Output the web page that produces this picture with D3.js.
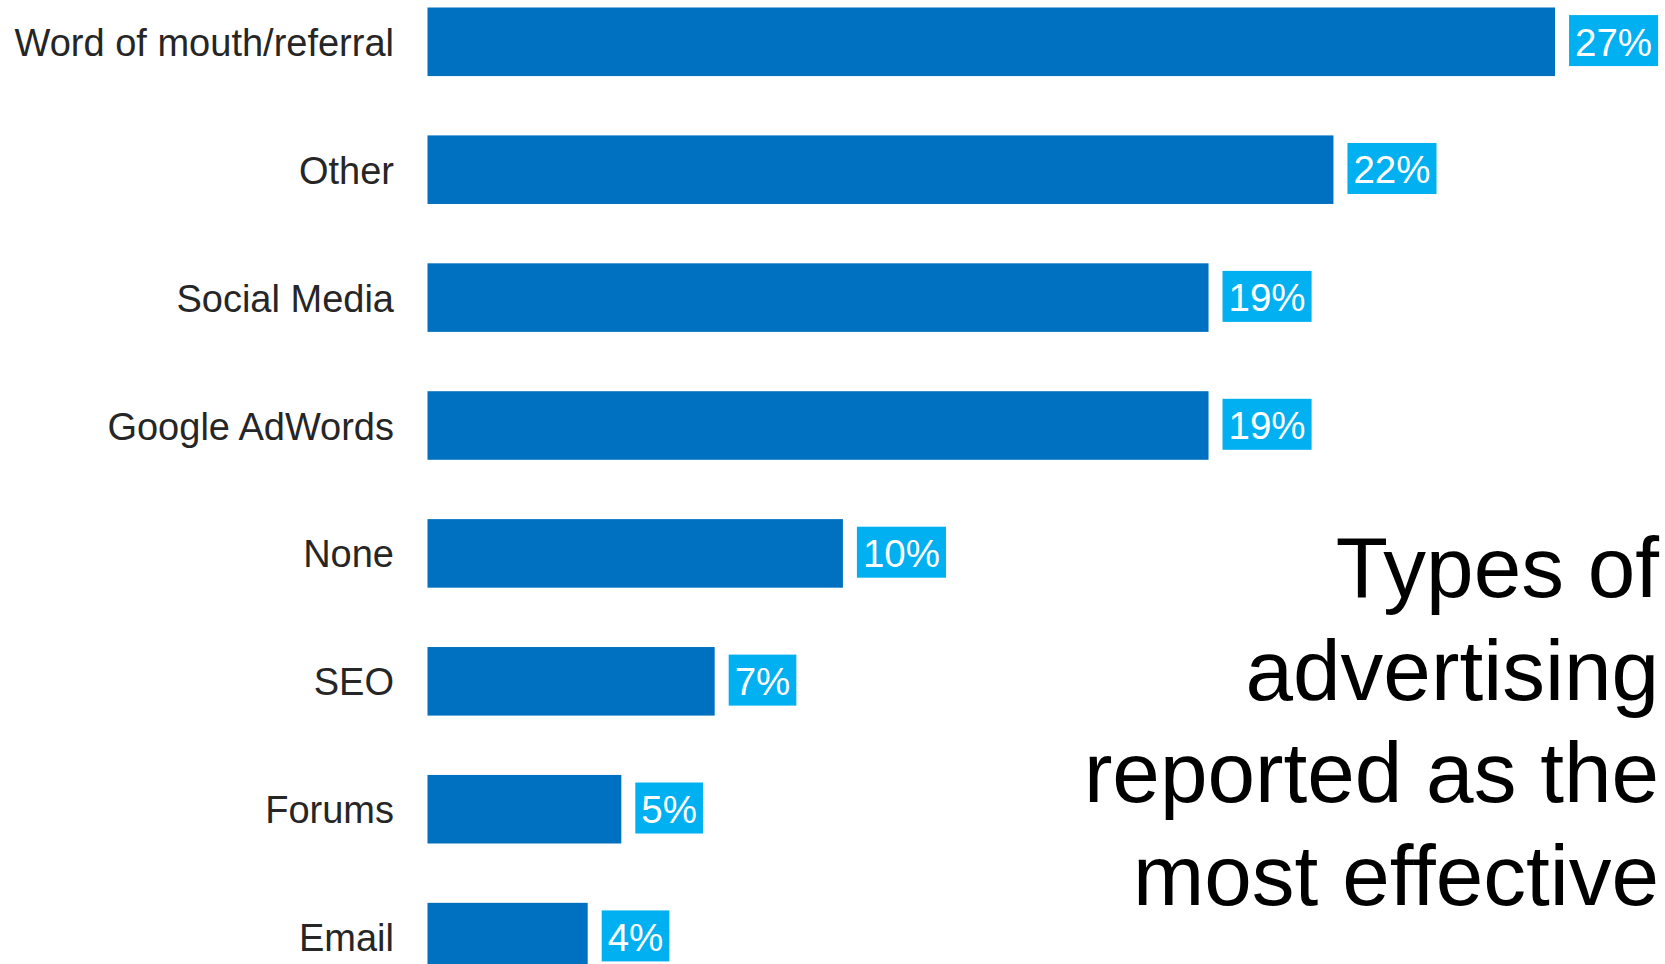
<!DOCTYPE html>
<html>
<head>
<meta charset="utf-8">
<script src="https://cdn.jsdelivr.net/npm/d3@7"></script>
<style>
body { margin:0; background:white; }
.cat { font-family:"Liberation Sans", Arial, sans-serif; font-size:38px; fill:#262626; }
.val { font-family:"Liberation Sans", Arial, sans-serif; font-size:38.5px; fill:white; }
.title { font-family:"Liberation Sans", Arial, sans-serif; font-size:85.5px; fill:black; }
</style>
</head>
<body>
<svg></svg>
<script>
var categories = ["Word of mouth/referral","Other","Social Media","Google AdWords","None","SEO","Forums","Email"]
var values = [27.17,21.83,18.82,18.82,10.01,6.92,4.67,3.86]
var valueLabels = ["27%","22%","19%","19%","10%","7%","5%","4%"]
var titleLines = ["Types of","advertising","reported as the","most effective"]

var drawBars = function(xScale,yScale)
{
    var bars = d3.select("svg")
    .append("g")
    .classed("bars",true)

    bars.selectAll("rect")
    .data(values)
    .enter()
    .append("rect")
    .attr("x",xScale(0))
    .attr("y",function(d,i){return yScale(categories[i])})
    .attr("width",function(d){return xScale(d)-xScale(0)})
    .attr("height",yScale.bandwidth())
    .attr("fill","#0070C0")
}

var drawValueLabels = function(xScale,yScale)
{
    var labels = d3.select("svg")
    .append("g")
    .classed("values",true)

    values.forEach(function(d,i)
    {
        var cy = yScale(categories[i]) + yScale.bandwidth()/2
        var x = xScale(d) + 14
        var g = labels.append("g")
        var box = g.append("rect")
        .attr("fill","#00B0F0")
        var txt = g.append("text")
        .text(valueLabels[i])
        .classed("val",true)
        .attr("x",x+6)
        .attr("y",cy+13.8)
        var w = txt.node().getComputedTextLength()
        box.attr("x",x)
        .attr("y",cy-26.7)
        .attr("width",w+12)
        .attr("height",51)
    })
}

var drawAxes = function(yScale)
{
    var yAxis = d3.axisLeft(yScale)
    .tickSize(0)
    .tickPadding(0)

    var axis = d3.select("svg")
    .append("g")
    .attr("transform","translate(394,0)")
    .call(yAxis)

    axis.select(".domain").remove()
    axis.selectAll("text")
    .attr("class","cat")
    .attr("fill",null)
    .attr("font-size",null)
    .attr("font-family",null)
    .attr("dy","0.37em")
}

var drawTitle = function()
{
    var title = d3.select("svg")
    .append("g")
    .classed("titleBlock",true)

    title.selectAll("text")
    .data(titleLines)
    .enter()
    .append("text")
    .text(function(d){return d})
    .classed("title",true)
    .attr("text-anchor","end")
    .attr("x",1659)
    .attr("y",function(d,i){return 597 + i*102.5})
}

var initGraph = function()
{
    var screen = {width:1665,height:964}

    d3.select("svg")
    .attr("width",screen.width)
    .attr("height",screen.height)

    var xScale = d3.scaleLinear()
        .domain([0,30])
        .range([427.5,427.5+1245])

    var yScale = d3.scaleBand()
        .domain(categories)
        .range([7.5,971.4])
        .paddingInner(0.464)
        .paddingOuter(0)

    drawBars(xScale,yScale)
    drawValueLabels(xScale,yScale)
    drawAxes(yScale)
    drawTitle()
}

initGraph()
</script>
</body>
</html>
